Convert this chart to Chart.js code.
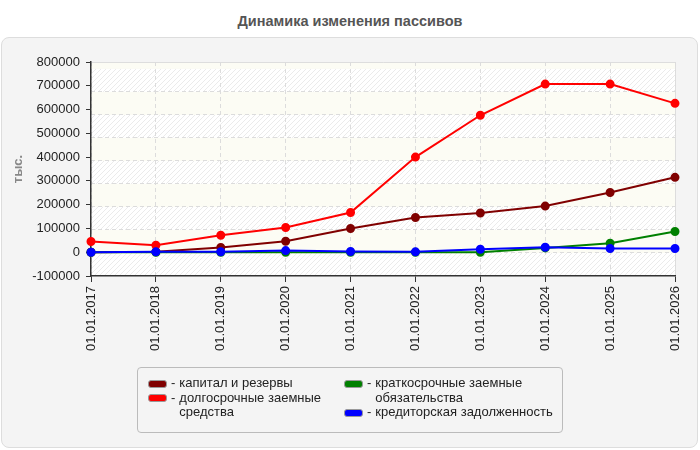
<!DOCTYPE html>
<html>
<head>
<meta charset="utf-8">
<script src="https://cdn.jsdelivr.net/npm/chart.js@4.4.1/dist/chart.umd.min.js"></script>
<style>
  html, body { margin: 0; padding: 0; background: #fff; }
  body { width: 700px; height: 450px; position: relative; overflow: hidden; font-family: "Liberation Sans", Arial, sans-serif; }
  #title { position: absolute; top: 13px; left: 0; width: 700px; text-align: center; font-weight: bold; font-size: 14.5px; color: #555; }
  #panel { position: absolute; left: 1px; top: 37px; width: 695px; height: 409px; background: #f4f4f4; border: 1px solid #ddd; border-radius: 8px; }
  #wrap { position: absolute; left: 0; top: 0; width: 700px; height: 450px; }
  #legend { position: absolute; left: 137px; top: 367px; width: 424px; height: 64px; border: 1px solid #bbb; border-radius: 4px; background: #f4f4f4; }
  .col { position: absolute; top: 8px; }
  .item { display: flex; align-items: flex-start; font-size: 13px; line-height: 14.5px; color: #222; }
  .sw { flex: none; width: 17px; height: 6px; border: 1px solid #999; border-radius: 3px; margin-top: 3.5px; margin-right: 4px; }
  .dash { flex: none; margin-right: 4px; }
</style>
</head>
<body>
<div id="title">Динамика изменения пассивов</div>
<div id="panel"></div>
<div id="wrap"><canvas id="c" width="700" height="450"></canvas></div>
<div id="legend"></div>
<script>
// ---- data ----
const categories = ['01.01.2017','01.01.2018','01.01.2019','01.01.2020','01.01.2021','01.01.2022','01.01.2023','01.01.2024','01.01.2025','01.01.2026'];
const capitalReserves = [0, 2000, 19800, 46000, 100000, 146000, 165000, 194000, 251000, 315000];
const longTermBorrowings = [45000, 29500, 71600, 104000, 167000, 400000, 576000, 707000, 707000, 626000];
const shortTermBorrowings = [0, 0, 0, 0, 0, 0, 0, 18000, 38000, 87000];
const accountsPayable = [0, 1500, 2000, 7000, 3000, 1500, 12500, 21000, 15500, 15500];
const seriesNames = ['капитал и резервы', 'долгосрочные заемные средства', 'краткосрочные заемные обязательства', 'кредиторская задолженность'];
const seriesColors = ['#800000', '#ff0000', '#008000', '#0000ff'];
const yMin = -100000, yMax = 800000, yStep = 100000;
const yTitle = 'тыс.';

// ---- legend (HTML) ----
const legendCols = [[0, 1], [2, 3]];
const colLeft = [10, 206];
const colTextWidth = [150, 190];
const legend = document.getElementById('legend');
legendCols.forEach((idxs, ci) => {
  const col = document.createElement('div');
  col.className = 'col';
  col.style.left = colLeft[ci] + 'px';
  idxs.forEach(i => {
    const it = document.createElement('div');
    it.className = 'item';
    const sw = document.createElement('span');
    sw.className = 'sw';
    sw.style.background = seriesColors[i];
    const d = document.createElement('span');
    d.className = 'dash';
    d.textContent = '-';
    const t = document.createElement('span');
    t.style.width = colTextWidth[ci] + 'px';
    t.textContent = seriesNames[i];
    it.appendChild(sw); it.appendChild(d); it.appendChild(t);
    col.appendChild(it);
  });
  legend.appendChild(col);
});

// ---- background bands plugin ----
function hatchPattern(ctx) {
  const c = document.createElement('canvas');
  c.width = 5; c.height = 5;
  const g = c.getContext('2d');
  g.fillStyle = '#ffffff';
  g.fillRect(0, 0, 5, 5);
  g.strokeStyle = '#ebebeb';
  g.lineWidth = 1;
  g.beginPath();
  g.moveTo(-1, 6); g.lineTo(6, -1);
  g.moveTo(-1, 1); g.lineTo(1, -1);
  g.moveTo(4, 6); g.lineTo(6, 4);
  g.stroke();
  return ctx.createPattern(c, 'repeat');
}
const bandsPlugin = {
  id: 'bands',
  beforeDraw(chart) {
    const {ctx, chartArea: a, scales} = chart;
    const s = scales.yGrid;
    const pat = hatchPattern(ctx);
    ctx.save();
    for (let k = 0; k < Math.ceil(s.max); k++) {
      const yb = s.getPixelForValue(k);
      const yt = s.getPixelForValue(Math.min(k + 1, s.max));
      ctx.fillStyle = (k % 2 === 0) ? pat : '#fcfcf4';
      ctx.fillRect(a.left, yt, a.right - a.left, yb - yt);
    }
    ctx.strokeStyle = '#dddddd';
    ctx.lineWidth = 1;
    ctx.beginPath();
    ctx.moveTo(a.left, a.top + 0.5); ctx.lineTo(a.right + 0.5, a.top + 0.5); ctx.lineTo(a.right + 0.5, a.bottom);
    ctx.stroke();
    ctx.restore();
  }
};

const datasets = [capitalReserves, longTermBorrowings, shortTermBorrowings, accountsPayable].map((vals, i) => ({
  label: seriesNames[i],
  data: vals,
  borderColor: seriesColors[i],
  backgroundColor: seriesColors[i],
  pointBackgroundColor: seriesColors[i],
  pointBorderColor: seriesColors[i],
  borderWidth: 2,
  pointRadius: 3.5,
  tension: 0,
  order: 4 - i,
  yAxisID: 'y'
}));

Chart.defaults.font.family = '"Liberation Sans", Arial, sans-serif';

new Chart(document.getElementById('c'), {
  type: 'line',
  data: { labels: categories, datasets },
  options: {
    responsive: false,
    animation: false,
    layout: { padding: { top: 62, left: 0, right: 25, bottom: 94 } },
    plugins: { legend: { display: false }, tooltip: { enabled: false }, title: { display: false } },
    scales: {
      x: {
        offset: false,
        grid: { display: true, color: '#dcdcdc', lineWidth: 1, drawTicks: true, tickLength: 6, tickColor: '#333', tickBorderDash: [] },
        border: { display: true, color: '#333', width: 1.5, dash: [4, 3] },
        ticks: { maxRotation: 90, minRotation: 90, color: '#222', font: { size: 13 }, padding: 4, autoSkip: false },
        afterFit(s) { s.height = 80; }
      },
      y: {
        position: 'left',
        min: yMin, max: yMax,
        ticks: { stepSize: yStep, color: '#222', font: { size: 13 }, padding: 6, callback: v => String(v) },
        grid: { drawOnChartArea: false, drawTicks: true, tickLength: 5, tickColor: '#333' },
        border: { display: true, color: '#333', width: 1.5 },
        title: { display: true, text: yTitle, color: '#888', font: { size: 13, weight: 'bold' }, padding: { top: 11, bottom: 0 } },
        afterFit(s) { s.width = 91; }
      },
      yGrid: {
        position: 'right',
        min: 0, max: 9.3,
        ticks: { display: false, stepSize: 1 },
        grid: { drawTicks: false, color: '#dcdcdc', lineWidth: 1 },
        border: { display: false, dash: [4, 3] },
        afterBuildTicks(s) { s.ticks = s.ticks.filter(t => t.value >= 1 && t.value <= 8); },
        afterFit(s) { s.width = 0; }
      }
    }
  },
  plugins: [bandsPlugin]
});
</script>
</body>
</html>
